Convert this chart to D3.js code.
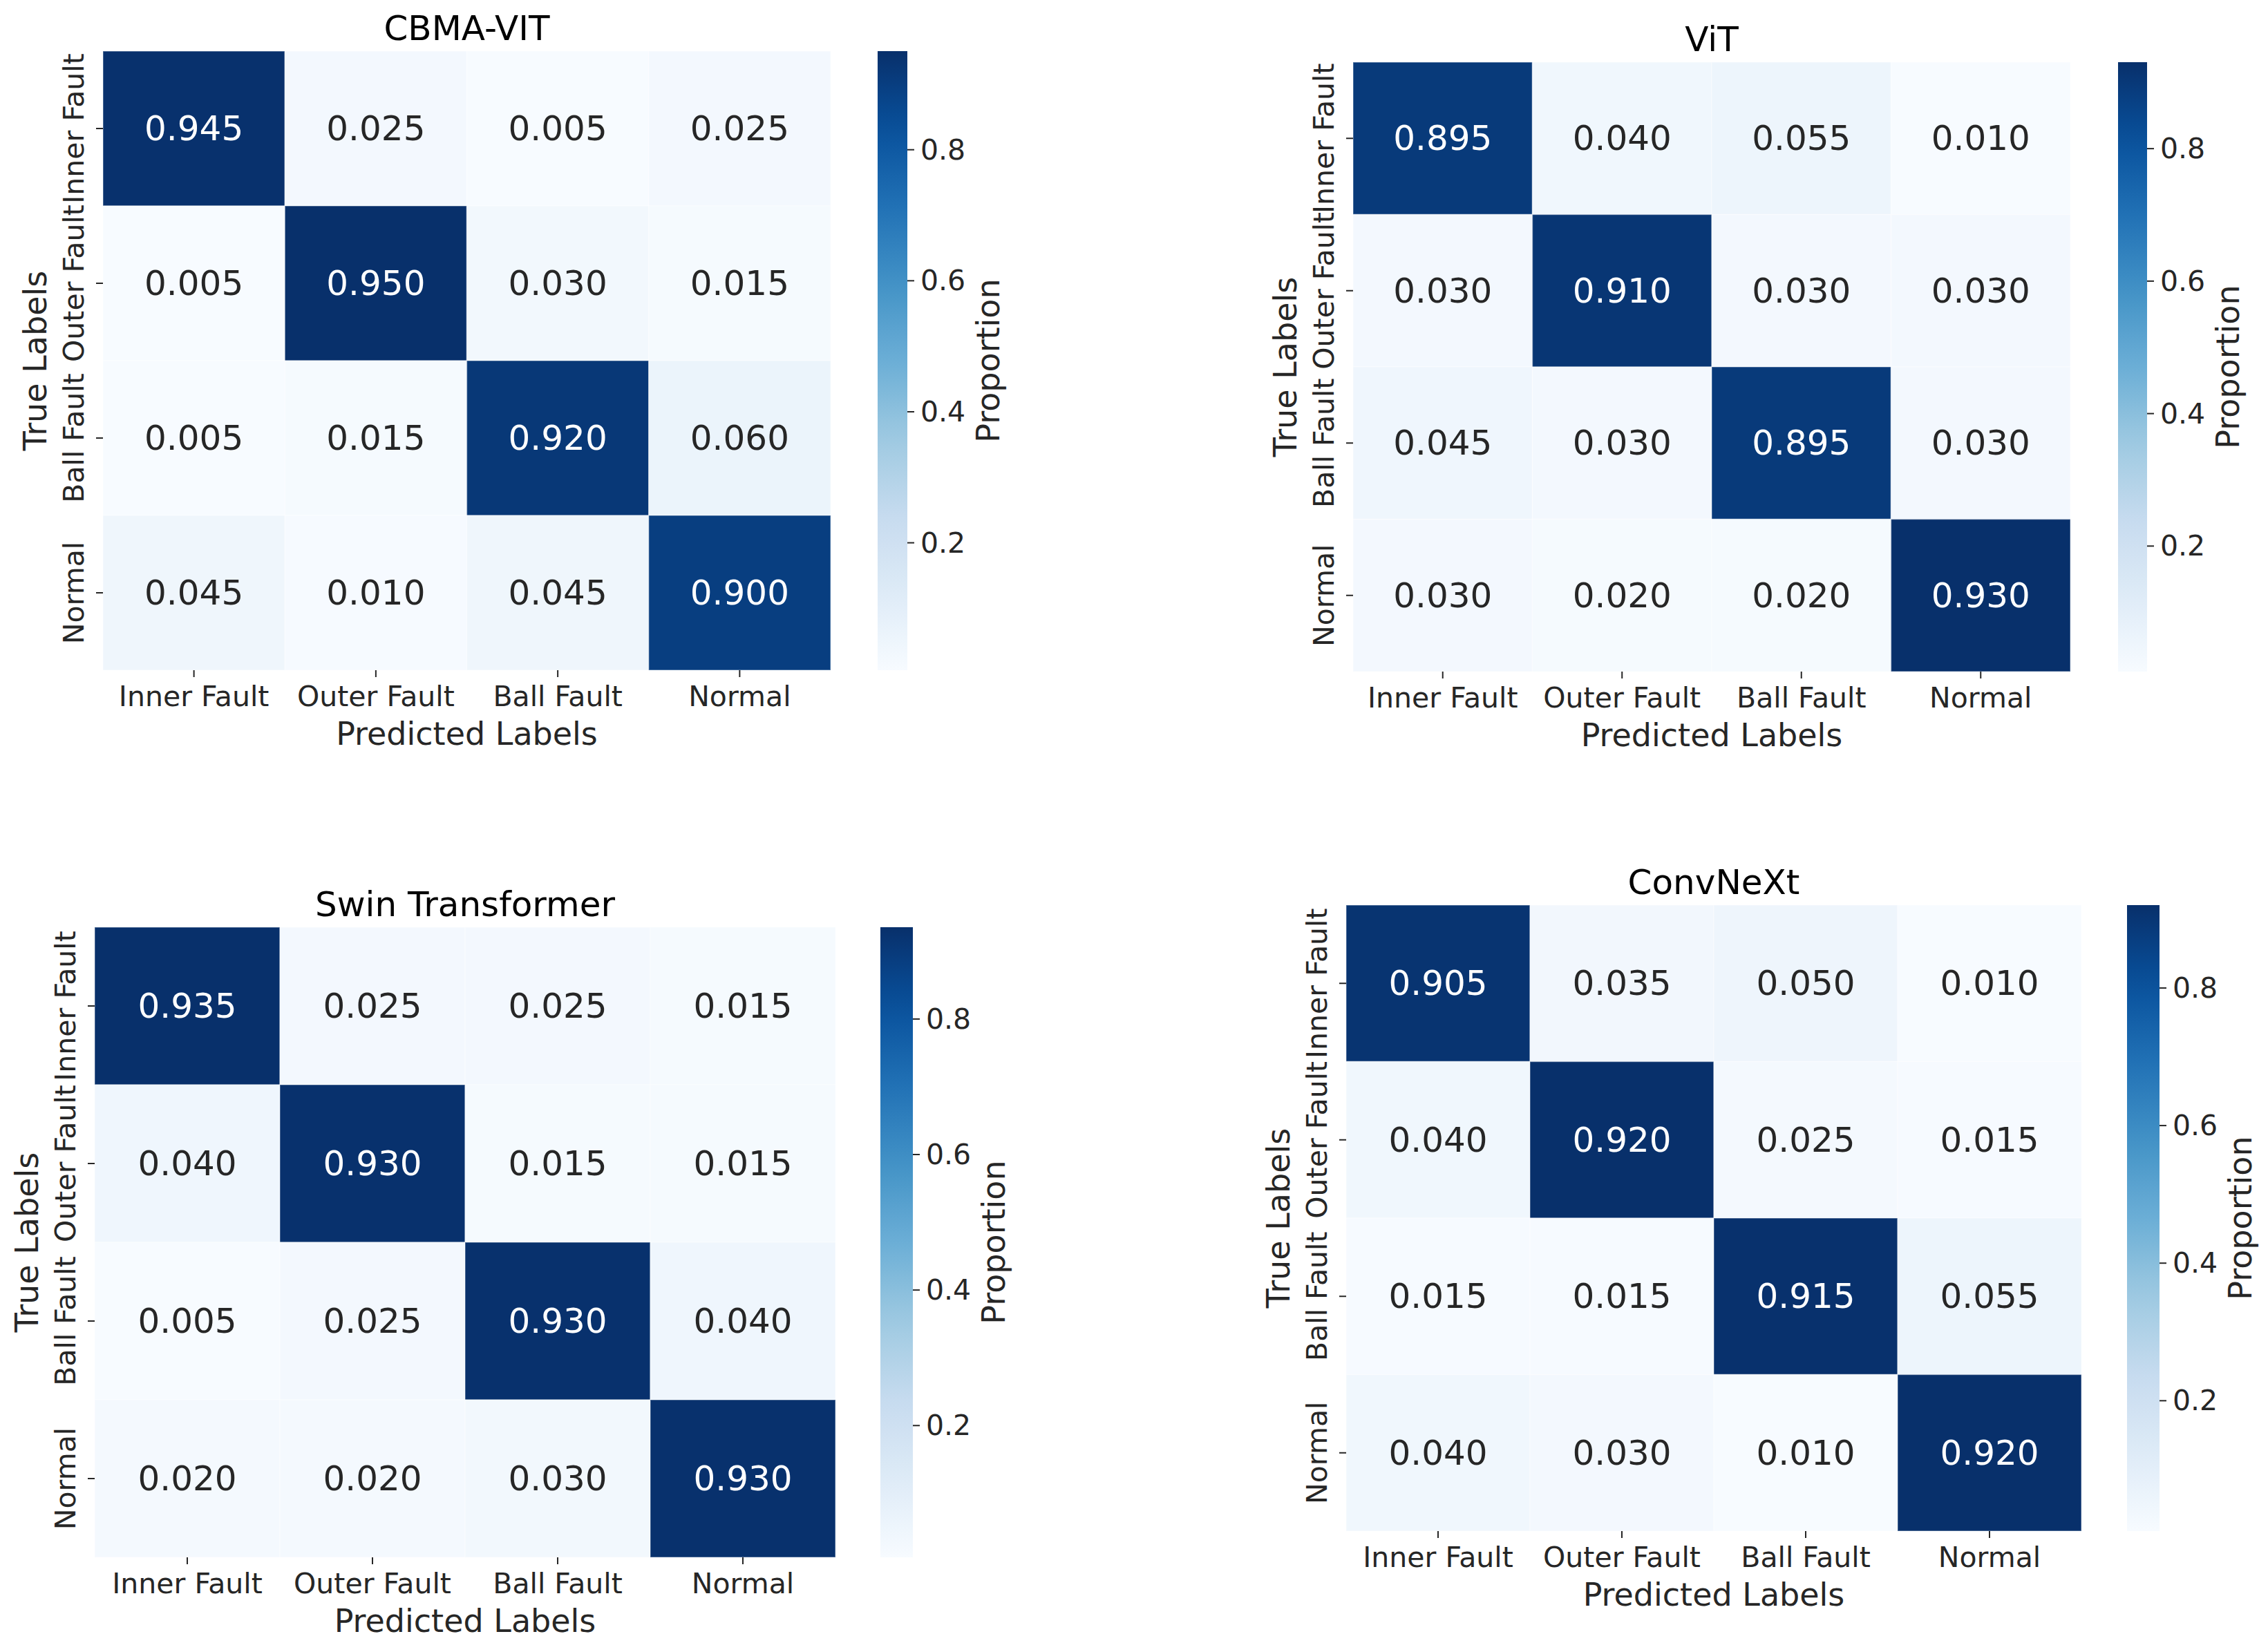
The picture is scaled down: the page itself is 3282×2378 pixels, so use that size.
<!DOCTYPE html>
<html>
<head>
<meta charset="utf-8">
<script src="https://cdn.jsdelivr.net/npm/d3@7"></script>
<style>
  body { margin: 0; background: #fff; }
  text { font-family: "DejaVu Sans", sans-serif; }
</style>
</head>
<body>
<div id="chart"></div>
<script>
// class names, shared by both axes
var classes = ["Inner Fault", "Outer Fault", "Ball Fault", "Normal"];

// confusion matrices (rows = true, cols = predicted)
var cbmaVit = [
  [0.945, 0.025, 0.005, 0.025],
  [0.005, 0.950, 0.030, 0.015],
  [0.005, 0.015, 0.920, 0.060],
  [0.045, 0.010, 0.045, 0.900]
];
var vit = [
  [0.895, 0.040, 0.055, 0.010],
  [0.030, 0.910, 0.030, 0.030],
  [0.045, 0.030, 0.895, 0.030],
  [0.030, 0.020, 0.020, 0.930]
];
var swin = [
  [0.935, 0.025, 0.025, 0.015],
  [0.040, 0.930, 0.015, 0.015],
  [0.005, 0.025, 0.930, 0.040],
  [0.020, 0.020, 0.030, 0.930]
];
var convNext = [
  [0.905, 0.035, 0.050, 0.010],
  [0.040, 0.920, 0.025, 0.015],
  [0.015, 0.015, 0.915, 0.055],
  [0.040, 0.030, 0.010, 0.920]
];

var titles = ["CBMA-VIT", "ViT", "Swin Transformer", "ConvNeXt"];
var matrices = [cbmaVit, vit, swin, convNext];
var cbarTicks = [0.2, 0.4, 0.6, 0.8];

// where each panel sits (heatmap box and colorbar strip)
var boxes = [
  {x0: 149,  x1: 1202, y0: 74,   y1: 970,  c0: 1270, c1: 1313},
  {x0: 1958, x1: 2996, y0: 90,   y1: 972,  c0: 3065, c1: 3107},
  {x0: 137,  x1: 1209, y0: 1342, y1: 2254, c0: 1274, c1: 1321},
  {x0: 1948, x1: 3012, y0: 1310, y1: 2216, c0: 3078, c1: 3125}
];

// matplotlib "Blues"
var blues = d3.piecewise(d3.interpolateRgb, ["#f7fbff", "#deebf7", "#c6dbef", "#9ecae1",
  "#6baed6", "#4292c6", "#2171b5", "#08519c", "#08306b"]);

function luminance(c) {
  var rgb = d3.rgb(c);
  var f = function(v) { v = v / 255; return v <= 0.03928 ? v / 12.92 : Math.pow((v + 0.055) / 1.055, 2.4); };
  return 0.2126 * f(rgb.r) + 0.7152 * f(rgb.g) + 0.0722 * f(rgb.b);
}

var svg = d3.select("#chart").append("svg")
  .attr("width", 3282)
  .attr("height", 2378);

svg.append("rect").attr("width", 3282).attr("height", 2378).attr("fill", "#fff");

var defs = svg.append("defs");

matrices.forEach(function(m, p) {
  var b = boxes[p];
  var flat = d3.merge(m);
  var vmin = d3.min(flat), vmax = d3.max(flat);
  var norm = d3.scaleLinear().domain([vmin, vmax]).range([0, 1]).clamp(true);
  var color = function(v) { return blues(norm(v)); };

  var x = d3.scaleBand().domain(classes).range([b.x0, b.x1]);
  var y = d3.scaleBand().domain(classes).range([b.y0, b.y1]);

  var g = svg.append("g");

  var cells = [];
  m.forEach(function(row, i) {
    row.forEach(function(v, j) {
      cells.push({t: classes[i], p: classes[j], v: v});
    });
  });

  g.selectAll("rect.cell")
    .data(cells)
    .enter()
    .append("rect")
    .attr("class", "cell")
    .attr("x", d => x(d.p))
    .attr("y", d => y(d.t))
    .attr("width", x.bandwidth())
    .attr("height", y.bandwidth())
    .attr("fill", d => color(d.v))
    .attr("stroke", "#fff")
    .attr("stroke-opacity", 0.35)
    .attr("stroke-width", 1.5);

  g.selectAll("text.annot")
    .data(cells)
    .enter()
    .append("text")
    .attr("class", "annot")
    .attr("x", d => x(d.p) + x.bandwidth() / 2)
    .attr("y", d => y(d.t) + y.bandwidth() / 2)
    .attr("text-anchor", "middle")
    .attr("dominant-baseline", "central")
    .attr("font-size", 50)
    .attr("fill", d => luminance(color(d.v)) < 0.408 ? "#fff" : "#262626")
    .text(d => d3.format(".3f")(d.v));

  // x axis
  var xAxis = g.append("g")
    .attr("transform", `translate(0, ${b.y1})`)
    .call(d3.axisBottom(x).tickSize(10));
  xAxis.select(".domain").remove();
  xAxis.selectAll("line").attr("stroke", "#262626").attr("stroke-width", 2);
  xAxis.selectAll("text")
    .attr("y", 38)
    .attr("dy", null)
    .attr("dominant-baseline", "central")
    .attr("font-size", 41)
    .attr("font-family", "DejaVu Sans")
    .attr("fill", "#262626");

  // y axis, labels turned on their side
  var yAxis = g.append("g")
    .attr("transform", `translate(${b.x0}, 0)`)
    .call(d3.axisLeft(y).tickSize(10));
  yAxis.select(".domain").remove();
  yAxis.selectAll("line").attr("stroke", "#262626").attr("stroke-width", 2);
  yAxis.selectAll("text")
    .attr("x", null)
    .attr("dy", null)
    .attr("text-anchor", "middle")
    .attr("dominant-baseline", "central")
    .attr("transform", "translate(-42, 0) rotate(-90)")
    .attr("font-size", 41)
    .attr("font-family", "DejaVu Sans")
    .attr("fill", "#262626");

  // title and axis labels
  g.append("text")
    .attr("x", (b.x0 + b.x1) / 2)
    .attr("y", b.y0 - 33)
    .attr("text-anchor", "middle")
    .attr("dominant-baseline", "central")
    .attr("font-size", 50)
    .attr("fill", "#000")
    .text(titles[p]);

  g.append("text")
    .attr("x", (b.x0 + b.x1) / 2)
    .attr("y", b.y1 + 92)
    .attr("text-anchor", "middle")
    .attr("dominant-baseline", "central")
    .attr("font-size", 46)
    .attr("fill", "#262626")
    .text("Predicted Labels");

  g.append("text")
    .attr("transform", `translate(${b.x0 - 98}, ${(b.y0 + b.y1) / 2}) rotate(-90)`)
    .attr("text-anchor", "middle")
    .attr("dominant-baseline", "central")
    .attr("font-size", 46)
    .attr("fill", "#262626")
    .text("True Labels");

  // colorbar
  var gradId = "grad" + p;
  var grad = defs.append("linearGradient")
    .attr("id", gradId)
    .attr("x1", 0).attr("y1", 1).attr("x2", 0).attr("y2", 0);
  d3.range(0, 1.0001, 0.05).forEach(function(t) {
    grad.append("stop")
      .attr("offset", t)
      .attr("stop-color", blues(t));
  });

  g.append("rect")
    .attr("x", b.c0)
    .attr("y", b.y0)
    .attr("width", b.c1 - b.c0)
    .attr("height", b.y1 - b.y0)
    .attr("fill", `url(#${gradId})`);

  var cScale = d3.scaleLinear().domain([vmin, vmax]).range([b.y1, b.y0]);
  var cAxis = g.append("g")
    .attr("transform", `translate(${b.c1}, 0)`)
    .call(d3.axisRight(cScale).tickValues(cbarTicks).tickFormat(d3.format(".1f")).tickSize(10).tickPadding(9));
  cAxis.select(".domain").remove();
  cAxis.selectAll("line").attr("stroke", "#262626").attr("stroke-width", 2);
  cAxis.selectAll("text")
    .attr("dy", null)
    .attr("dominant-baseline", "central")
    .attr("font-size", 41)
    .attr("font-family", "DejaVu Sans")
    .attr("fill", "#262626");

  g.append("text")
    .attr("transform", `translate(${b.c1 + 117}, ${(b.y0 + b.y1) / 2}) rotate(-90)`)
    .attr("text-anchor", "middle")
    .attr("dominant-baseline", "central")
    .attr("font-size", 46)
    .attr("fill", "#262626")
    .text("Proportion");
});
</script>
</body>
</html>
